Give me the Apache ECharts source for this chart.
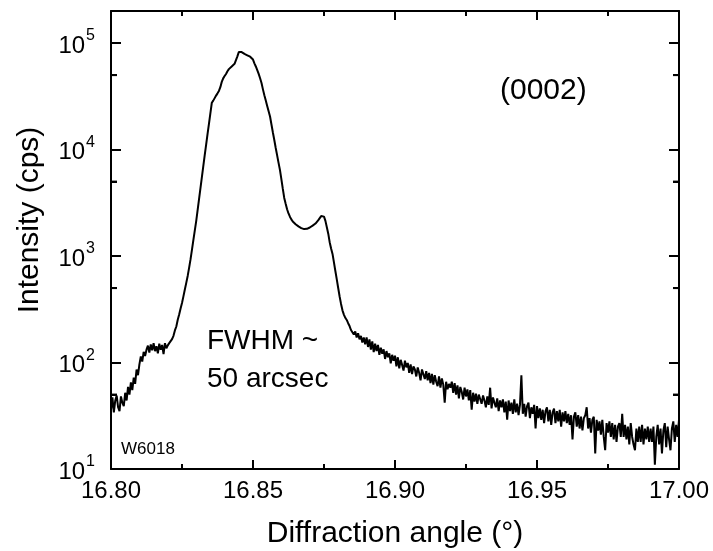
<!DOCTYPE html>
<html>
<head>
<meta charset="utf-8">
<script src="https://cdn.jsdelivr.net/npm/echarts@6/dist/echarts.min.js"></script>
<style>
html,body{margin:0;padding:0;background:#fff;}
#chart{width:713px;height:551px;}
</style>
</head>
<body>
<div id="chart"></div>
<script>
// Scan parameters (omega-2theta scan, regular step)
const scanStart = 16.80;
const scanStep = 0.0005;

const intensity = [
  // 16.800 - 16.8095
  36, 47, 34, 44, 49, 38, 35, 48, 42, 39, 52, 44, 59, 50, 65, 55, 72, 63, 86, 76,
  // 16.810 - 16.8195
  96, 114, 102, 126, 115, 132, 144, 124, 148, 130, 152, 128, 142, 122, 150, 132, 146, 120, 152, 136,
  // 16.820 - 16.8295
  145, 152, 150, 166, 178, 200, 218, 252, 282, 322, 362, 418, 485, 560, 650, 775, 930, 1140, 1410, 1730,
  // 16.830 - 16.8395
  2130, 2700, 3430, 4350, 5510, 6980, 8850, 11100, 14000, 17500, 22000, 27500, 28800, 30400, 32100, 33700, 35500, 38500, 43200, 46600,
  // 16.840 - 16.8495
  48980, 51290, 54330, 56890, 58880, 60260, 61660, 63830, 69180, 74990, 82220, 84920, 82220, 80350, 79070, 77620, 76740, 75680, 74470, 71940,
  // 16.850 - 16.8595
  69980, 64570, 60260, 55590, 51290, 46770, 42170, 36730, 32360, 28840, 25700, 22910, 20420, 17180, 14450, 12300, 10350, 8810, 7500, 6410,
  // 16.860 - 16.8695
  5250, 4270, 3510, 3090, 2750, 2510, 2340, 2210, 2110, 2040, 1990, 1940, 1900, 1860, 1830, 1800, 1790, 1780, 1800, 1830,
  // 16.870 - 16.8795
  1854, 1888, 1928, 1963, 2018, 2089, 2173, 2265, 2371, 2421, 2344, 2138, 1862, 1622, 1349, 1175, 1047, 871, 724, 603,
  // 16.880 - 16.8895
  501, 417, 355, 309, 282, 263, 251, 234, 220, 202, 210, 183, 196, 172, 188, 165, 178, 154, 172, 148,
  // 16.890 - 16.8995
  172, 140, 165, 132, 158, 125, 150, 128, 146, 118, 138, 121, 133, 108, 128, 112, 122, 98, 118, 104,
  // 16.900 - 16.9095
  116, 92, 112, 88, 106, 95, 84, 104, 90, 99, 80, 96, 78, 92, 86, 74, 90, 80, 68, 86,
  // 16.910 - 16.9195
  86, 70, 83, 68, 80, 64, 78, 62, 76, 66, 60, 74, 58, 71, 62, 42, 66, 56, 63, 58,
  // 16.920 - 16.9295
  66, 52, 64, 50, 61, 46, 59, 53, 45, 58, 48, 56, 44, 55, 36, 52, 43, 51, 41, 50,
  // 16.930 - 16.9395
  52, 41, 49, 44, 38, 48, 40, 58, 37, 47, 42, 38, 46, 35, 44, 38, 45, 34, 43, 29,
  // 16.940 - 16.9495
  44, 35, 42, 33, 45, 34, 41, 32, 40, 76, 33, 41, 31, 39, 42, 30, 38, 33, 40, 24,
  // 16.950 - 16.9595
  39, 30, 37, 29, 36, 27, 35, 38, 28, 36, 26, 34, 37, 27, 35, 28, 36, 25, 34, 28,
  // 16.960 - 16.9695
  35, 27, 33, 26, 32, 19, 31, 34, 25, 32, 24, 31, 23, 30, 32, 38, 24, 30, 22, 29,
  // 16.970 - 16.9795
  31, 14, 29, 23, 28, 21, 29, 20, 15, 27, 22, 28, 20, 27, 19, 26, 18, 25, 27, 20,
  // 16.980 - 16.9895
  33, 20, 26, 19, 25, 17, 27, 20, 17, 15, 24, 18, 25, 18, 26, 17, 24, 19, 25, 18,
  // 16.990 - 16.9995
  24, 18, 25, 11, 20, 26, 17, 24, 14, 23, 27, 16, 25, 19, 15, 24, 28, 18, 26, 20,
  // 17.000
  29
];

// Axis settings
const xMin = 16.80, xMax = 17.00, xTickStep = 0.05;
const yMin = 10, yMax = 200000;
const minorTickValues = [50, 500, 5000, 50000]; // minor y ticks at 5 x 10^n

const xTitle = 'Diffraction angle (°)';
const yTitle = 'Intensity (cps)';
const peakLabel = '(0002)';
const fwhmLabel = 'FWHM ~\n50 arcsec';
const sampleLabel = 'W6018';

const FONT = 'Liberation Sans, Arial, sans-serif';
const MINOR_LEN = 6;

const data = intensity.map((v, i) => [+(scanStart + i * scanStep).toFixed(4), v]);

const chart = echarts.init(document.getElementById('chart'), null, {renderer: 'canvas'});

const axisLine = {show: true, onZero: false, lineStyle: {color: '#000', width: 2}};

function yLabel(v) {
  const e = Math.log10(v);
  if (Math.abs(e - Math.round(e)) > 1e-6) return '';
  return '{b|10}{s|' + Math.round(e) + '}';
}

function minorAxis(pos) {
  return {
    type: 'log', logBase: 10, min: yMin, max: yMax, position: pos,
    axisLine: {show: false, onZero: false},
    axisTick: {show: true, inside: true, length: MINOR_LEN, customValues: minorTickValues,
      lineStyle: {color: '#000', width: 2}},
    axisLabel: {show: false},
    splitLine: {show: false}
  };
}

const textGraphics = [
  {type: 'text', id: 'peak', left: 500, top: 76,
    style: {text: peakLabel, font: '30px ' + FONT, fill: '#000'}},
  {type: 'text', id: 'fwhm', left: 207, top: 322,
    style: {text: fwhmLabel, font: '28px ' + FONT, fill: '#000', lineHeight: 38}},
  {type: 'text', id: 'sample', left: 121, top: 441,
    style: {text: sampleLabel, font: '17px ' + FONT, fill: '#000'}}
];

const option = {
  animation: false,
  backgroundColor: '#fff',
  grid: {left: 111, top: 11, right: 34, bottom: 82, show: false, containLabel: false, outerBoundsMode: 'none'},
  xAxis: [
    {
      type: 'value', min: xMin, max: xMax, interval: xTickStep,
      position: 'bottom',
      axisLine: axisLine,
      axisTick: {show: true, inside: true, length: 9, lineStyle: {color: '#000', width: 2}},
      minorTick: {show: true, splitNumber: 2, length: 5, lineStyle: {color: '#000', width: 2}},
      axisLabel: {color: '#000', fontSize: 24, fontFamily: FONT, margin: 10,
        formatter: v => v.toFixed(2)},
      splitLine: {show: false},
      name: xTitle, nameLocation: 'middle', nameGap: 50,
      nameTextStyle: {color: '#000', fontSize: 30, fontFamily: FONT}
    },
    {
      type: 'value', min: xMin, max: xMax, interval: xTickStep,
      position: 'top',
      axisLine: axisLine,
      axisTick: {show: true, inside: true, length: 9, lineStyle: {color: '#000', width: 2}},
      minorTick: {show: true, splitNumber: 2, length: 5, lineStyle: {color: '#000', width: 2}},
      axisLabel: {show: false},
      splitLine: {show: false}
    }
  ],
  yAxis: [
    {
      type: 'log', logBase: 10, min: yMin, max: yMax,
      position: 'left',
      axisLine: axisLine,
      axisTick: {show: true, inside: true, length: 10, lineStyle: {color: '#000', width: 2}},
      axisLabel: {
        color: '#000', margin: 16, formatter: yLabel, showMaxLabel: false,
        rich: {
          b: {fontSize: 24, fontFamily: FONT, color: '#000', lineHeight: 30, verticalAlign: 'bottom'},
          s: {fontSize: 16, fontFamily: FONT, color: '#000', lineHeight: 30, verticalAlign: 'top', padding: [0, 0, 0, 1]}
        }
      },
      splitLine: {show: false},
      name: yTitle, nameLocation: 'middle', nameGap: 66,
      nameTextStyle: {color: '#000', fontSize: 30, fontFamily: FONT, padding: [0, 0, 0, 40]}
    },
    {
      type: 'log', logBase: 10, min: yMin, max: yMax,
      position: 'right',
      axisLine: axisLine,
      axisTick: {show: true, inside: true, length: 10, lineStyle: {color: '#000', width: 2}},
      axisLabel: {show: false},
      splitLine: {show: false}
    },
    minorAxis('left'),
    minorAxis('right')
  ],
  series: [
    {
      type: 'line', xAxisIndex: 0, yAxisIndex: 0,
      data: data, showSymbol: false, symbol: 'none',
      lineStyle: {color: '#000', width: 2},
      silent: true, z: 3
    }
  ],
  graphic: textGraphics
};
chart.setOption(option);

// Backup drawing of the minor y ticks through the chart's own scale (coincides with the axis ticks)
const minorTickGraphics = [];
minorTickValues.forEach(function (v, i) {
  const pl = chart.convertToPixel({xAxisIndex: 0, yAxisIndex: 0}, [xMin, v]);
  const pr = chart.convertToPixel({xAxisIndex: 0, yAxisIndex: 0}, [xMax, v]);
  if (!pl || !pr || !isFinite(pl[1]) || !isFinite(pr[1])) return;
  const st = {stroke: '#000', lineWidth: 2};
  minorTickGraphics.push(
    {type: 'line', id: 'mtl' + i, z: 10, shape: {x1: pl[0], y1: pl[1], x2: pl[0] + MINOR_LEN, y2: pl[1]}, style: st},
    {type: 'line', id: 'mtr' + i, z: 10, shape: {x1: pr[0], y1: pr[1], x2: pr[0] - MINOR_LEN, y2: pr[1]}, style: st}
  );
});
if (minorTickGraphics.length) {
  chart.setOption({graphic: textGraphics.concat(minorTickGraphics)});
}
</script>
</body>
</html>
